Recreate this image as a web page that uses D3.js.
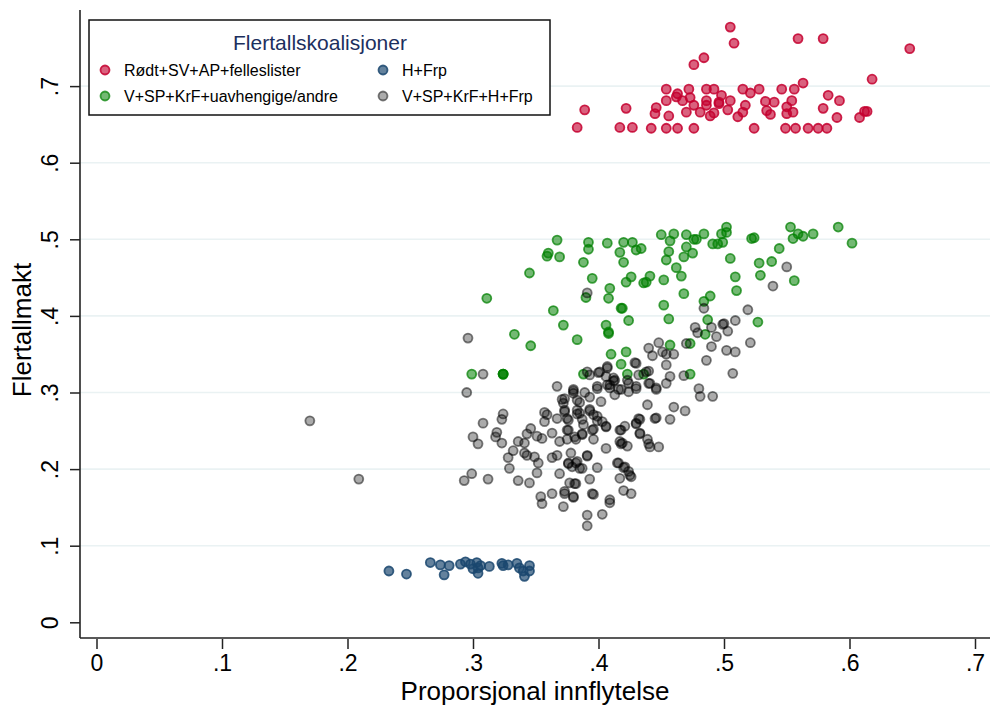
<!DOCTYPE html>
<html>
<head>
<meta charset="utf-8">
<script src="https://cdn.jsdelivr.net/npm/d3@7"></script>
<style>
  body { margin: 0; background: #fff; }
  svg { display: block; font-family: Arial, "Liberation Sans", sans-serif; }
</style>
</head>
<body>
<svg id="plotarea" width="990" height="708"></svg>
<script>
// ---- data ----
var xTicks = [0, 0.1, 0.2, 0.3, 0.4, 0.5, 0.6, 0.7];
var xTickLabels = ["0", ".1", ".2", ".3", ".4", ".5", ".6", ".7"];
var yTicks = [0, 0.1, 0.2, 0.3, 0.4, 0.5, 0.6, 0.7];
var yTickLabels = ["0", ".1", ".2", ".3", ".4", ".5", ".6", ".7"];

var seriesNames = ["Rødt+SV+AP+felleslister", "H+Frp", "V+SP+KrF+uavhengige/andre", "V+SP+KrF+H+Frp"];

var redPoints = [
  [0.505,0.777],[0.508,0.756],[0.559,0.762],[0.579,0.762],[0.648,0.749],[0.476,0.728],[0.484,0.737],[0.618,0.709],[0.563,0.704],
  [0.454,0.696],[0.472,0.696],[0.486,0.696],[0.492,0.696],[0.515,0.696],[0.528,0.696],[0.546,0.696],[0.556,0.696],
  [0.463,0.690],[0.498,0.688],[0.521,0.691],[0.462,0.686],[0.473,0.685],[0.454,0.681],[0.467,0.681],[0.486,0.681],
  [0.496,0.679],[0.505,0.681],[0.533,0.680],[0.540,0.679],[0.554,0.681],[0.583,0.688],[0.592,0.681],
  [0.446,0.672],[0.476,0.675],[0.486,0.675],[0.496,0.677],[0.517,0.675],[0.550,0.673],[0.579,0.671],
  [0.445,0.664],[0.456,0.661],[0.470,0.666],[0.481,0.666],[0.489,0.661],[0.492,0.665],[0.503,0.669],[0.511,0.660],
  [0.515,0.666],[0.534,0.668],[0.537,0.663],[0.550,0.664],[0.555,0.666],[0.590,0.659],[0.608,0.659],[0.614,0.667],[0.612,0.667],
  [0.442,0.645],[0.454,0.645],[0.463,0.645],[0.476,0.645],[0.524,0.645],[0.549,0.645],[0.557,0.645],[0.567,0.645],
  [0.575,0.645],[0.582,0.645],[0.389,0.669],[0.383,0.646],[0.422,0.671],[0.417,0.646],[0.427,0.646]
];

var bluePoints = [
  [0.233,0.067],[0.247,0.063],[0.266,0.078],[0.274,0.075],[0.277,0.062],[0.281,0.074],[0.290,0.076],[0.294,0.079],
  [0.298,0.076],[0.300,0.070],[0.303,0.078],[0.304,0.071],[0.304,0.064],[0.306,0.074],[0.313,0.073],[0.323,0.077],
  [0.324,0.074],[0.328,0.075],[0.335,0.077],[0.337,0.071],[0.340,0.067],[0.341,0.060],[0.345,0.074],[0.345,0.067]
];

var greenPoints = [
  [0.367,0.499],[0.360,0.482],[0.359,0.478],[0.369,0.477],[0.345,0.456],[0.311,0.423],[0.364,0.407],[0.372,0.388],
  [0.333,0.376],[0.346,0.361],[0.383,0.369],[0.299,0.324],[0.324,0.324],[0.324,0.324],[0.324,0.324],
  [0.502,0.516],[0.553,0.516],[0.591,0.516],[0.602,0.495],[0.450,0.506],[0.460,0.507],[0.470,0.506],[0.484,0.507],
  [0.498,0.507],[0.502,0.509],[0.522,0.501],[0.524,0.502],[0.559,0.507],[0.555,0.501],[0.563,0.504],[0.571,0.507],
  [0.392,0.496],[0.392,0.487],[0.407,0.495],[0.420,0.496],[0.427,0.496],[0.430,0.486],[0.434,0.488],[0.457,0.498],
  [0.470,0.490],[0.476,0.500],[0.478,0.500],[0.491,0.494],[0.495,0.494],[0.499,0.496],
  [0.417,0.483],[0.456,0.484],[0.475,0.482],[0.388,0.470],[0.420,0.470],[0.454,0.473],[0.468,0.477],[0.505,0.475],
  [0.544,0.488],[0.528,0.469],[0.538,0.471],[0.462,0.463],
  [0.395,0.449],[0.426,0.451],[0.422,0.444],[0.436,0.443],[0.438,0.444],[0.441,0.452],[0.452,0.447],[0.466,0.452],
  [0.509,0.451],[0.529,0.453],[0.556,0.446],
  [0.409,0.436],[0.408,0.423],[0.390,0.424],[0.468,0.429],[0.510,0.433],[0.489,0.426],[0.484,0.419],[0.418,0.410],
  [0.419,0.410],[0.452,0.414],
  [0.424,0.394],[0.456,0.396],[0.527,0.392],[0.487,0.395],[0.406,0.388],[0.408,0.377],[0.408,0.379],[0.485,0.376],
  [0.473,0.364],[0.457,0.362],[0.410,0.350],[0.422,0.353],[0.418,0.337],[0.423,0.324],[0.388,0.324],[0.473,0.324],[0.436,0.324]
];

var greyPoints = [
  [0.170,0.263],[0.209,0.187],
  [0.296,0.371],[0.295,0.300],[0.308,0.324],[0.308,0.260],[0.300,0.242],[0.304,0.233],[0.324,0.272],[0.323,0.265],
  [0.319,0.248],[0.318,0.242],[0.323,0.234],[0.299,0.194],[0.293,0.185],[0.312,0.187],[0.329,0.201],[0.328,0.215],
  [0.332,0.224],[0.336,0.236],[0.341,0.234],[0.343,0.246],[0.346,0.253],[0.351,0.243],[0.355,0.240],[0.357,0.274],
  [0.359,0.271],[0.357,0.262],[0.367,0.308],[0.371,0.291],[0.372,0.286],[0.373,0.275],[0.367,0.266],[0.363,0.247],
  [0.369,0.236],[0.363,0.215],[0.367,0.218],[0.343,0.218],[0.349,0.216],[0.352,0.208],[0.341,0.221],[0.336,0.185],
  [0.345,0.182],[0.351,0.195],[0.354,0.164],[0.355,0.155],[0.363,0.168],[0.369,0.194],[0.373,0.168],[0.372,0.151],
  [0.380,0.163],[0.377,0.182],[0.382,0.181],[0.383,0.210],[0.376,0.208],[0.379,0.203],[0.387,0.201],[0.393,0.187],
  [0.396,0.167],[0.399,0.202],[0.391,0.217],[0.378,0.221],[0.376,0.251],[0.375,0.239],[0.382,0.239],[0.387,0.246],
  [0.396,0.239],[0.406,0.227],[0.391,0.140],[0.391,0.126],[0.403,0.141],[0.409,0.156],[0.416,0.208],[0.420,0.202],
  [0.425,0.192],[0.417,0.188],[0.420,0.172],[0.426,0.168],[0.418,0.251],[0.419,0.234],[0.423,0.230],[0.430,0.260],
  [0.433,0.265],[0.433,0.247],[0.439,0.239],[0.441,0.229],[0.445,0.266],[0.439,0.284],[0.440,0.312],[0.446,0.304],
  [0.376,0.264],[0.383,0.277],[0.387,0.265],[0.388,0.258],[0.383,0.272],[0.393,0.276],[0.396,0.271],[0.399,0.263],
  [0.403,0.262],[0.406,0.255],[0.395,0.251],[0.380,0.299],[0.389,0.300],[0.385,0.287],[0.393,0.294],[0.399,0.305],
  [0.402,0.288],[0.407,0.332],[0.409,0.310],[0.412,0.315],[0.418,0.304],[0.423,0.316],[0.430,0.338],
  [0.550,0.464],[0.539,0.439],[0.391,0.430],[0.484,0.410],[0.519,0.408],[0.509,0.394],[0.499,0.389],[0.500,0.390],
  [0.477,0.385],[0.490,0.385],[0.503,0.380],[0.479,0.378],[0.494,0.373],[0.521,0.365],[0.448,0.365],[0.470,0.364],
  [0.440,0.358],[0.490,0.360],[0.502,0.355],[0.509,0.353],[0.451,0.353],[0.454,0.350],[0.460,0.350],[0.443,0.348],
  [0.486,0.342],[0.429,0.339],[0.454,0.336],[0.407,0.334],[0.391,0.327],[0.438,0.327],[0.440,0.328],[0.432,0.323],
  [0.457,0.321],[0.468,0.322],[0.507,0.325],[0.400,0.326],[0.412,0.319],[0.441,0.312],[0.399,0.308],[0.407,0.310],
  [0.424,0.312],[0.430,0.308],[0.446,0.306],[0.454,0.312],[0.480,0.305],[0.481,0.295],[0.491,0.295],[0.460,0.281],
  [0.469,0.276],[0.446,0.267],[0.457,0.265],[0.432,0.266],[0.430,0.259],[0.421,0.256],[0.417,0.251],[0.433,0.246],
  [0.440,0.233],[0.448,0.229],[0.417,0.236],[0.418,0.233],[0.391,0.218],[0.415,0.208],[0.421,0.203],[0.424,0.197],
  [0.426,0.190],[0.385,0.201],[0.382,0.208],[0.376,0.207],[0.381,0.181],[0.395,0.168],[0.373,0.171],[0.409,0.160],
  [0.380,0.164],[0.373,0.292],[0.380,0.302],[0.383,0.290],[0.393,0.278],[0.385,0.273],[0.373,0.277],[0.409,0.306],
  [0.413,0.297],[0.424,0.301],[0.430,0.305],[0.399,0.269],[0.406,0.256],[0.396,0.252],[0.375,0.266],[0.375,0.251],
  [0.381,0.242],[0.387,0.245],[0.406,0.321],[0.413,0.316],[0.401,0.327],[0.393,0.323],[0.380,0.304],[0.416,0.304]
];

// ---- layout ----
var svg = d3.select("#plotarea");
var axisLeft = 80, axisBottom = 638, plotRight = 990, plotTop = 10;

var x = d3.scaleLinear().domain([0, 0.7]).range([96.5, 975]);
var y = d3.scaleLinear().domain([0, 0.7]).range([622.3, 86.1]);

// horizontal grid lines (not at zero)
svg.append("g")
    .selectAll("line")
    .data(yTicks.filter(function (d) { return d > 0; }))
    .enter()
    .append("line")
    .attr("x1", axisLeft)
    .attr("x2", plotRight)
    .attr("y1", function (d) { return y(d); })
    .attr("y2", function (d) { return y(d); })
    .attr("stroke", "#eaf2f3")
    .attr("stroke-width", 1.6);

// x axis
var xAxis = d3.axisBottom(x)
    .tickValues(xTicks)
    .tickFormat(function (d, i) { return xTickLabels[i]; })
    .tickSize(10)
    .tickPadding(6);
var gx = svg.append("g")
    .attr("transform", "translate(0," + (axisBottom + 1) + ")")
    .call(xAxis);
gx.select(".domain").remove();
gx.selectAll(".tick line").attr("stroke", "#222").attr("stroke-width", 1.5);
gx.selectAll(".tick text")
    .attr("fill", "#000")
    .style("font-size", "23px")
    .style("font-family", "Arial, 'Liberation Sans', sans-serif");

// y axis with rotated labels
var yAxis = d3.axisLeft(y)
    .tickValues(yTicks)
    .tickFormat(function (d, i) { return yTickLabels[i]; })
    .tickSize(10);
var gy = svg.append("g")
    .attr("transform", "translate(" + axisLeft + ",0)")
    .call(yAxis);
gy.select(".domain").remove();
gy.selectAll(".tick line").attr("stroke", "#222").attr("stroke-width", 1.5);
gy.selectAll(".tick text")
    .attr("fill", "#000")
    .attr("x", null).attr("dy", null)
    .attr("text-anchor", "middle")
    .attr("transform", "translate(-22,0) rotate(-90)")
    .style("font-size", "23px")
    .style("font-family", "Arial, 'Liberation Sans', sans-serif");

// axis lines
svg.append("line")
    .attr("x1", axisLeft).attr("x2", axisLeft)
    .attr("y1", plotTop).attr("y2", axisBottom)
    .attr("stroke", "#222").attr("stroke-width", 1.6);
svg.append("line")
    .attr("x1", axisLeft).attr("x2", plotRight)
    .attr("y1", axisBottom).attr("y2", axisBottom)
    .attr("stroke", "#222").attr("stroke-width", 1.6);

// axis titles
svg.append("text")
    .attr("x", 535)
    .attr("y", 700)
    .attr("text-anchor", "middle")
    .style("font-size", "26px")
    .text("Proporsjonal innflytelse");
svg.append("text")
    .attr("transform", "translate(31," + 330 + ") rotate(-90)")
    .attr("text-anchor", "middle")
    .style("font-size", "26px")
    .text("Flertallmakt");

// ---- markers ----
var styles = {
    red:   {color: "#c4002f", fillOp: 0.62, strokeOp: 0.85},
    blue:  {color: "#1a476f", fillOp: 0.68, strokeOp: 0.85},
    green: {color: "#008000", fillOp: 0.55, strokeOp: 0.72},
    grey:  {color: "#000000", fillOp: 0.33, strokeOp: 0.5}
};

function drawPoints(points, st) {
    svg.append("g")
        .selectAll("circle")
        .data(points)
        .enter()
        .append("circle")
        .attr("cx", function (d) { return x(d[0]); })
        .attr("cy", function (d) { return y(d[1]); })
        .attr("r", 4.5)
        .attr("fill", st.color)
        .attr("fill-opacity", st.fillOp)
        .attr("stroke", st.color)
        .attr("stroke-opacity", st.strokeOp)
        .attr("stroke-width", 1.8);
}

drawPoints(redPoints, styles.red);
drawPoints(greenPoints, styles.green);
drawPoints(bluePoints, styles.blue);
drawPoints(greyPoints, styles.grey);

// ---- legend ----
var legend = svg.append("g");
legend.append("rect")
    .attr("x", 89).attr("y", 20)
    .attr("width", 461).attr("height", 95)
    .attr("fill", "#fff")
    .attr("stroke", "#111")
    .attr("stroke-width", 1.5);
legend.append("text")
    .attr("x", 320).attr("y", 50)
    .attr("text-anchor", "middle")
    .attr("fill", "#1c2f5e")
    .style("font-size", "21px")
    .text("Flertallskoalisjoner");

var legendItems = [
    {name: seriesNames[0], st: styles.red,   col: 0, row: 0},
    {name: seriesNames[1], st: styles.blue,  col: 1, row: 0},
    {name: seriesNames[2], st: styles.green, col: 0, row: 1},
    {name: seriesNames[3], st: styles.grey,  col: 1, row: 1}
];
var item = legend.selectAll(".item")
    .data(legendItems)
    .enter()
    .append("g")
    .attr("transform", function (d) {
        return "translate(" + (d.col ? 383 : 105) + "," + (d.row ? 96 : 70) + ")";
    });
item.append("circle")
    .attr("r", 4.5)
    .attr("fill", function (d) { return d.st.color; })
    .attr("fill-opacity", function (d) { return d.st.fillOp; })
    .attr("stroke", function (d) { return d.st.color; })
    .attr("stroke-opacity", function (d) { return d.st.strokeOp; })
    .attr("stroke-width", 1.8);
item.append("text")
    .attr("x", 19)
    .attr("y", 5.5)
    .style("font-size", "16px")
    .text(function (d) { return d.name; });
</script>
</body>
</html>
